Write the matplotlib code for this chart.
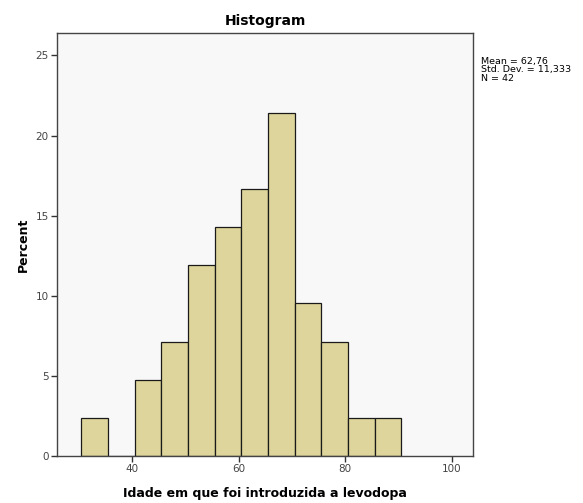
import matplotlib.pyplot as plt

# Histogram data (percent of N=42), bins of width 5 starting at 30.5
bin_edges = [30.5, 35.5, 40.5, 45.5, 50.5, 55.5, 60.5, 65.5, 70.5, 75.5, 80.5, 85.5, 90.5]
percent = [2.38, 0.0, 4.76, 7.14, 11.90, 14.29, 16.67, 21.43, 9.52, 7.14, 2.38, 2.38]
x_ticks = [40, 60, 80, 100]
y_ticks = [0, 5, 10, 15, 20, 25]
stats_text = "Mean = 62,76\nStd. Dev. = 11,333\nN = 42"

fig = plt.figure(figsize=(5.83, 5.03), dpi=100)
ax = fig.add_axes([0.098, 0.0934, 0.713, 0.841])
ax.set_facecolor('#f8f8f8')

lefts = bin_edges[:-1]
widths = [b - a for a, b in zip(bin_edges[:-1], bin_edges[1:])]
ax.bar(lefts, percent, width=widths, align='edge', color='#ddd59b',
       edgecolor='#1a1a1a', linewidth=0.9)

ax.set_xlim(26.0, 103.9)
ax.set_ylim(0, 26.4)
ax.set_xticks(x_ticks)
ax.set_yticks(y_ticks)
ax.tick_params(axis='both', direction='out', length=4, width=1, color='#333333',
               labelsize=7.5, labelcolor='#444444', pad=2)
ax.tick_params(top=False, right=False)
for s in ax.spines.values():
    s.set_color('#444444')
    s.set_linewidth(1.0)

ax.set_title('Histogram', fontsize=10, fontweight='bold', pad=6)
ax.set_xlabel('Idade em que foi introduzida a levodopa', fontsize=9, fontweight='bold', labelpad=9)
ax.set_ylabel('Percent', fontsize=9, fontweight='bold', labelpad=4)

fig.text(0.825, 0.887, stats_text, fontsize=6.8, va='top', ha='left', linespacing=0.95)

fig.savefig('out.png', dpi=100, facecolor='white')
